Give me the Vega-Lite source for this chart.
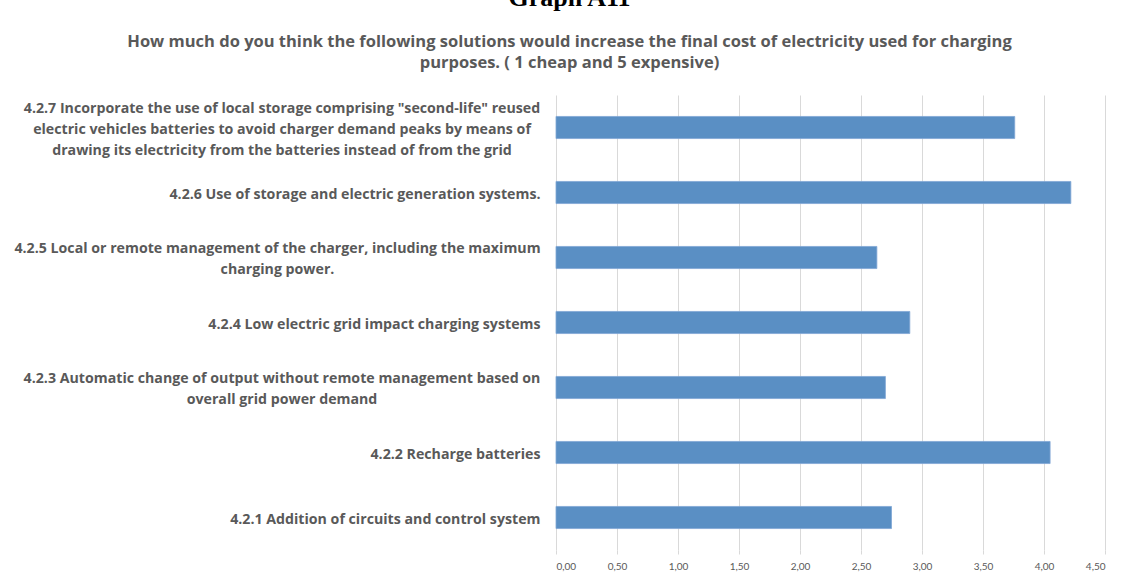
{
  "$schema": "https://vega.github.io/schema/vega-lite/v6.json",
  "autosize": {"type": "none"},
  "padding": {"left": 556, "top": 95, "right": 24, "bottom": 22},
  "width": 549,
  "height": 455,
  "background": "white",
  "title": {
    "text": "Graph A11",
    "subtitle": ["How much do you think the following solutions would increase the final cost of electricity used for charging", "purposes. ( 1 cheap and 5 expensive)"],
    "anchor": "middle",
    "frame": "group",
    "dx": -261,
    "offset": 24,
    "font": "Liberation Serif",
    "fontSize": 26,
    "fontWeight": "bold",
    "color": "black",
    "subtitleFont": "Open Sans",
    "subtitleFontSize": 16.5,
    "subtitleFontWeight": "bold",
    "subtitleColor": "#595959",
    "subtitleLineHeight": 21,
    "subtitlePadding": 23
  },
  "data": {
    "values": [
      {"label": "4.2.7 Incorporate the use of local storage comprising \"second-life\" reused|electric vehicles batteries to avoid charger demand peaks by means of|drawing its electricity from the batteries instead of from the grid", "value": 3.76},
      {"label": "4.2.6 Use of storage and electric generation systems.", "value": 4.22},
      {"label": "4.2.5 Local or remote management of the charger, including the maximum|charging power.", "value": 2.63},
      {"label": "4.2.4 Low electric grid impact charging systems", "value": 2.9},
      {"label": "4.2.3 Automatic change of output without remote management based on|overall grid power demand", "value": 2.7},
      {"label": "4.2.2 Recharge batteries", "value": 4.05},
      {"label": "4.2.1 Addition of circuits and control system", "value": 2.75}
    ]
  },
  "mark": {"type": "bar", "color": "#5a8fc4", "stroke": "#7fa6d4", "strokeWidth": 0.8},
  "encoding": {
    "y": {
      "field": "label",
      "type": "nominal",
      "sort": "descending",
      "scale": {"paddingInner": 0.66, "paddingOuter": 0.33},
      "axis": {
        "title": null,
        "domain": false,
        "ticks": false,
        "labelExpr": "split(datum.value, '|')",
        "labelAlign": {
          "condition": {"test": "indexof(datum.value, '|') >= 0", "value": "center"},
          "value": "right"
        },
        "labelBaseline": "middle",
        "labelOffset": {
          "condition": [
            {"test": "indexof(datum.value, '4.2.7') == 0", "value": -19},
            {"test": "indexof(datum.value, '4.2.5') == 0 || indexof(datum.value, '4.2.3') == 0", "value": -8.5}
          ],
          "value": 2
        },
        "labelPadding": {
          "condition": [
            {"test": "indexof(datum.value, '4.2.7') == 0", "value": 274.5},
            {"test": "indexof(datum.value, '4.2.5') == 0", "value": 279},
            {"test": "indexof(datum.value, '4.2.3') == 0", "value": 274.5}
          ],
          "value": 16
        },
        "labelLimit": 700,
        "labelFont": "Open Sans",
        "labelFontSize": 14.2,
        "labelFontWeight": "bold",
        "labelColor": "#595959",
        "labelLineHeight": 21
      }
    },
    "x": {
      "field": "value",
      "type": "quantitative",
      "scale": {"domain": [0, 4.5], "nice": false},
      "axis": {
        "title": null,
        "values": [0, 0.5, 1, 1.5, 2, 2.5, 3, 3.5, 4, 4.5],
        "labelExpr": "replace(format(datum.value, '.2f'), '.', ',')",
        "domain": false,
        "grid": true,
        "gridColor": "#d9d9d9",
        "gridWidth": 1,
        "ticks": true,
        "tickSize": 4,
        "tickColor": "#d9d9d9",
        "labelPadding": 7,
        "labelFont": "Lato",
        "labelFontSize": 10,
        "labelColor": "#595959"
      }
    }
  },
  "config": {"view": {"stroke": null}}
}
